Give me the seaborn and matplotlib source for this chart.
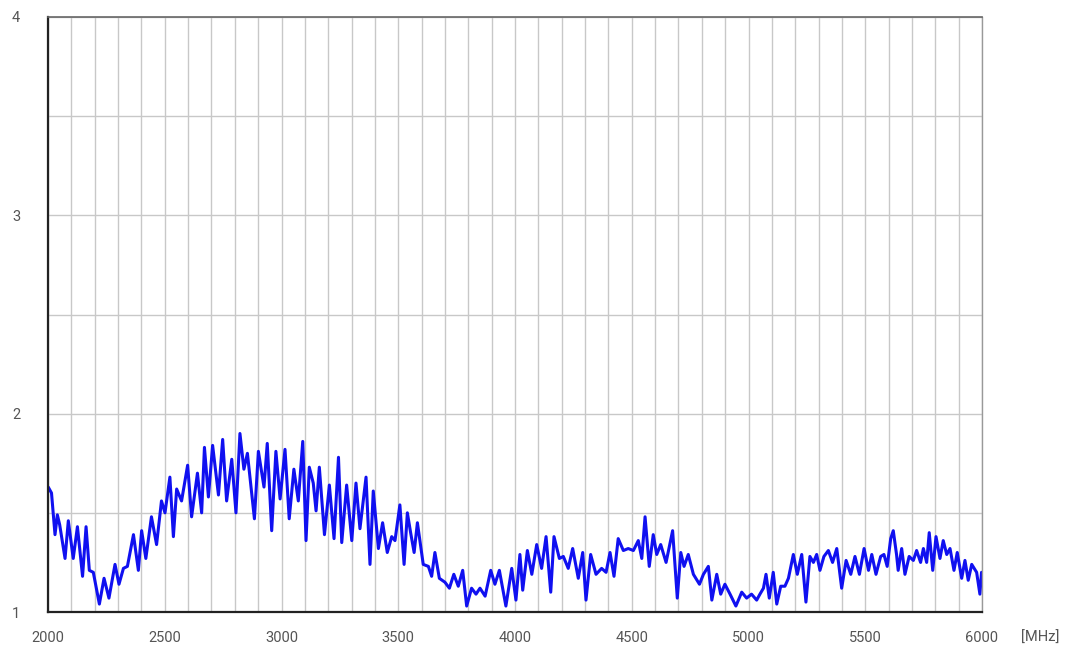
import numpy as np
import pandas as pd
import matplotlib
matplotlib.use("Agg")
import matplotlib.pyplot as plt
import seaborn as sns

# values (peaks / troughs)
freq_mhz = [
    2001, 2015, 2030, 2040, 2050, 2073, 2087, 2108, 2126, 2148, 2163, 2177, 2194,
    2220, 2240, 2261, 2287, 2304, 2323, 2340, 2366, 2387, 2401, 2419, 2443, 2465,
    2486, 2501, 2522, 2537, 2551, 2572, 2598, 2615, 2640, 2658, 2670, 2687, 2705,
    2730, 2748, 2765, 2787, 2805, 2822, 2839, 2854, 2884, 2901, 2925, 2939, 2958,
    2976, 2994, 3015, 3033, 3053, 3072, 3091, 3105, 3119, 3136, 3148, 3162, 3184,
    3205, 3225, 3244, 3258, 3279, 3301, 3319, 3336, 3362, 3379, 3393, 3415, 3433,
    3453, 3472, 3486, 3507, 3525, 3539, 3553, 3568, 3582, 3607, 3629, 3643, 3657,
    3676, 3700, 3719, 3738, 3757, 3776, 3793, 3814, 3833, 3850, 3872, 3896, 3914,
    3933, 3961, 3986, 4004, 4021, 4033, 4053, 4072, 4093, 4114, 4133, 4153, 4167,
    4190, 4207, 4228, 4247, 4271, 4290, 4304, 4324, 4347, 4371, 4390, 4407, 4424,
    4442, 4464, 4485, 4507, 4528, 4543, 4557, 4575, 4592, 4607, 4624, 4647, 4675,
    4695, 4710, 4724, 4742, 4764, 4790, 4807, 4828, 4843, 4864, 4881, 4899, 4921,
    4946, 4971, 4992, 5013, 5035, 5049, 5064, 5075, 5089, 5106, 5121, 5138, 5156,
    5171, 5192, 5209, 5228, 5246, 5263, 5278, 5292, 5306, 5323, 5342, 5360, 5378,
    5399, 5418, 5438, 5456, 5475, 5495, 5514, 5528, 5546, 5566, 5580, 5594, 5609,
    5620, 5634, 5641, 5656, 5670, 5688, 5706, 5720, 5737, 5749, 5763, 5774, 5789,
    5803, 5820, 5834, 5849, 5863, 5880, 5894, 5913, 5927, 5941, 5956, 5977, 5991,
    5998,
]
vswr = [
    1.63, 1.60, 1.39, 1.49, 1.44, 1.27, 1.46, 1.27, 1.43, 1.18, 1.43, 1.21, 1.20,
    1.04, 1.17, 1.07, 1.24, 1.14, 1.22, 1.23, 1.39, 1.21, 1.41, 1.27, 1.48, 1.34,
    1.56, 1.50, 1.68, 1.38, 1.62, 1.56, 1.74, 1.48, 1.70, 1.50, 1.83, 1.58, 1.84,
    1.59, 1.87, 1.56, 1.77, 1.50, 1.90, 1.72, 1.80, 1.47, 1.81, 1.63, 1.85, 1.41,
    1.81, 1.57, 1.82, 1.47, 1.72, 1.56, 1.86, 1.36, 1.73, 1.65, 1.51, 1.73, 1.39,
    1.64, 1.37, 1.78, 1.35, 1.64, 1.36, 1.65, 1.42, 1.68, 1.24, 1.61, 1.32, 1.45,
    1.30, 1.38, 1.36, 1.54, 1.24, 1.50, 1.40, 1.30, 1.45, 1.24, 1.23, 1.18, 1.30,
    1.17, 1.15, 1.12, 1.19, 1.13, 1.21, 1.03, 1.12, 1.09, 1.12, 1.08, 1.21, 1.14,
    1.21, 1.03, 1.22, 1.06, 1.29, 1.11, 1.31, 1.19, 1.34, 1.22, 1.38, 1.10, 1.38,
    1.27, 1.28, 1.22, 1.32, 1.17, 1.30, 1.06, 1.29, 1.19, 1.22, 1.20, 1.30, 1.18,
    1.37, 1.31, 1.32, 1.31, 1.36, 1.27, 1.48, 1.23, 1.39, 1.29, 1.34, 1.25, 1.41,
    1.07, 1.30, 1.23, 1.29, 1.19, 1.14, 1.19, 1.23, 1.06, 1.19, 1.09, 1.14, 1.09,
    1.03, 1.10, 1.07, 1.09, 1.06, 1.09, 1.12, 1.19, 1.07, 1.20, 1.04, 1.13, 1.13,
    1.17, 1.29, 1.19, 1.29, 1.05, 1.28, 1.25, 1.29, 1.21, 1.28, 1.31, 1.25, 1.32,
    1.12, 1.26, 1.19, 1.28, 1.19, 1.32, 1.21, 1.29, 1.19, 1.28, 1.29, 1.23, 1.37,
    1.41, 1.29, 1.21, 1.32, 1.19, 1.28, 1.26, 1.31, 1.25, 1.32, 1.25, 1.40, 1.21,
    1.38, 1.27, 1.36, 1.29, 1.32, 1.21, 1.30, 1.17, 1.26, 1.16, 1.24, 1.20, 1.09,
    1.20,
]
x_labels = ["2000", "2500", "3000", "3500", "4000", "4500", "5000", "5500", "6000"]
y_labels = ["1", "2", "3", "4"]

df = pd.DataFrame({"freq": freq_mhz, "vswr": vswr})

sns.set_style("white")
plt.rcParams["font.family"] = ["Roboto", "DejaVu Sans"]

fig = plt.figure(figsize=(10.75, 6.57), dpi=100)
ax = fig.add_axes([48 / 1075, 1 - 612 / 657, 934 / 1075, 595 / 657])

sns.lineplot(data=df, x="freq", y="vswr", color="#1010f0", linewidth=2.2,
             estimator=None, ax=ax)
for ln in ax.lines:
    ln.set_solid_joinstyle("round")

ax.set_xlim(2000, 6000)
ax.set_ylim(1, 4)
ax.set_xticks([int(s) for s in x_labels])
ax.set_xticklabels(x_labels)
ax.set_yticks([int(s) for s in y_labels])
ax.set_yticklabels(y_labels)
ax.set_xticks(np.arange(2000, 6001, 100), minor=True)
ax.set_yticks(np.arange(1, 4.01, 0.5), minor=True)
ax.grid(which="both", color="#c8c8c8", linewidth=1.0)
ax.set_axisbelow(True)

ax.tick_params(axis="x", which="major", direction="in", length=4, width=1.2,
               color="#222222", pad=14, labelsize=10.5, labelcolor="#555555")
ax.tick_params(axis="y", which="major", length=0, pad=20,
               labelsize=10.5, labelcolor="#555555")
ax.tick_params(which="minor", length=0)

ax.set_xlabel("")
ax.set_ylabel("")
for side in ["left", "bottom"]:
    ax.spines[side].set_color("#222222")
    ax.spines[side].set_linewidth(1.6)
ax.spines["top"].set_color("#666666")
ax.spines["top"].set_linewidth(1.2)
ax.spines["right"].set_color("#999999")
ax.spines["right"].set_linewidth(1.0)

fig.text(1040 / 1075, 1 - 638 / 657, "[MHz]", ha="center", va="center",
         fontsize=10.5, color="#555555")

fig.savefig("out.png", dpi=100)
